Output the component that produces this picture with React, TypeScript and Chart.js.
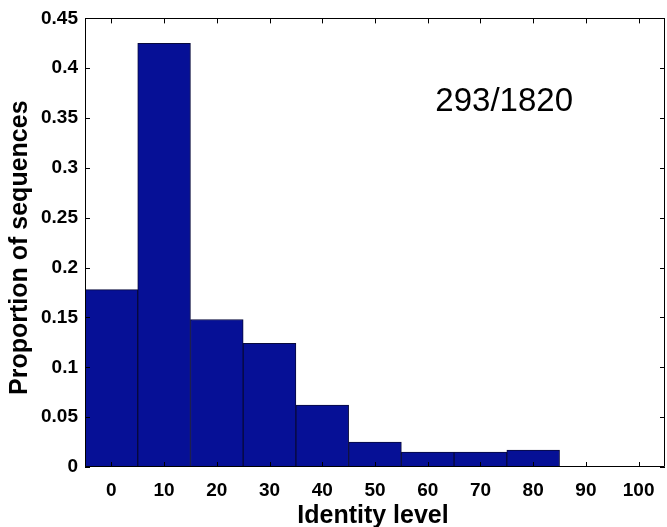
import React, { useEffect, useRef } from 'react';
import { Chart, registerables } from 'chart.js';

Chart.register(...registerables);

const categories = ['0', '10', '20', '30', '40', '50', '60', '70', '80', '90', '100'];
const proportions = [0.178, 0.425, 0.148, 0.124, 0.062, 0.025, 0.015, 0.015, 0.017, 0, 0];
const yTickValues = [0, 0.05, 0.1, 0.15, 0.2, 0.25, 0.3, 0.35, 0.4, 0.45];
const annotationText = '293/1820';
const annotationPos = { level: 74.5, value: 0.357 };
const xTitle = 'Identity level';
const yTitle = 'Proportion of sequences';

const framePlugin = {
  id: 'matlabFrame',
  afterDatasetsDraw(chart: any) {
    const { ctx, chartArea: a, scales } = chart;
    const x = scales.x;
    const y = scales.y;
    ctx.save();
    ctx.strokeStyle = '#000';
    ctx.lineWidth = 1;
    ctx.beginPath();
    ctx.rect(Math.round(a.left) + 0.5, Math.round(a.top) + 0.5, Math.round(a.right - a.left) - 1, Math.round(a.bottom - a.top) - 1);
    ctx.stroke();
    const tl = 5;
    ctx.beginPath();
    categories.forEach((_, i) => {
      const px = Math.round(x.getPixelForValue(i)) + 0.5;
      ctx.moveTo(px, a.bottom);
      ctx.lineTo(px, a.bottom - tl);
      ctx.moveTo(px, a.top);
      ctx.lineTo(px, a.top + tl);
    });
    yTickValues.forEach((v) => {
      const py = Math.round(y.getPixelForValue(v)) + 0.5;
      ctx.moveTo(a.left, py);
      ctx.lineTo(a.left + tl, py);
      ctx.moveTo(a.right, py);
      ctx.lineTo(a.right - tl, py);
    });
    ctx.stroke();

    // annotation
    ctx.fillStyle = '#000';
    ctx.font = '33px "Liberation Sans", Arial, sans-serif';
    ctx.textAlign = 'center';
    ctx.textBaseline = 'alphabetic';
    ctx.fillText(annotationText, x.getPixelForValue(annotationPos.level / 10), y.getPixelForValue(annotationPos.value));

    // axis titles
    ctx.font = 'bold 25px "Liberation Sans", Arial, sans-serif';
    ctx.fillText(xTitle, (a.left + a.right) / 2 - 2, chart.height - 4);
    ctx.save();
    ctx.translate(27, (a.top + a.bottom) / 2 + 5);
    ctx.rotate(-Math.PI / 2);
    ctx.fillText(yTitle, 0, 0);
    ctx.restore();
    ctx.restore();
  },
};

export default function App() {
  const ref = useRef<HTMLCanvasElement | null>(null);
  useEffect(() => {
    document.body.style.margin = '0';
    const canvas = ref.current;
    if (!canvas) return;
    const chart = new Chart(canvas, {
      type: 'bar',
      data: {
        labels: categories,
        datasets: [
          {
            data: proportions,
            backgroundColor: 'rgb(6,16,150)',
            borderColor: 'rgb(8,10,60)',
            borderWidth: 1,
            categoryPercentage: 1,
            barPercentage: 1,
          },
        ],
      },
      options: {
        animation: false,
        responsive: false,
        maintainAspectRatio: false,
        layout: { padding: { top: 10, right: 2, left: 0, bottom: 0 } },
        plugins: { legend: { display: false }, tooltip: { enabled: false }, title: { display: false } },
        scales: {
          x: {
            type: 'category',
            offset: true,
            grid: { display: false, drawTicks: false },
            border: { display: false },
            ticks: {
              color: '#000',
              padding: 12,
              font: { family: '"Liberation Sans", Arial, sans-serif', size: 19, weight: 'bold' },
              maxRotation: 0,
              autoSkip: false,
            },
            afterFit: (s: any) => {
              s.height = 60;
            },
          },
          y: {
            min: 0,
            max: 0.45,
            grid: { display: false, drawTicks: false },
            border: { display: false },
            afterBuildTicks: (s: any) => {
              s.ticks = yTickValues.map((v) => ({ value: v }));
            },
            ticks: {
              color: '#000',
              padding: 7,
              font: { family: '"Liberation Sans", Arial, sans-serif', size: 19, weight: 'bold' },
              callback: (v: any) => String(Number(Number(v).toFixed(2))),
            },
            afterFit: (s: any) => {
              s.width = 85;
            },
          },
        },
      },
      plugins: [framePlugin],
    });
    return () => chart.destroy();
  }, []);
  return (
    <div style={{ position: 'absolute', left: 0, top: 0, width: 667, height: 527, background: '#fff' }}>
      <canvas ref={ref} width={667} height={527} style={{ width: 667, height: 527, display: 'block' }} />
    </div>
  );
}
